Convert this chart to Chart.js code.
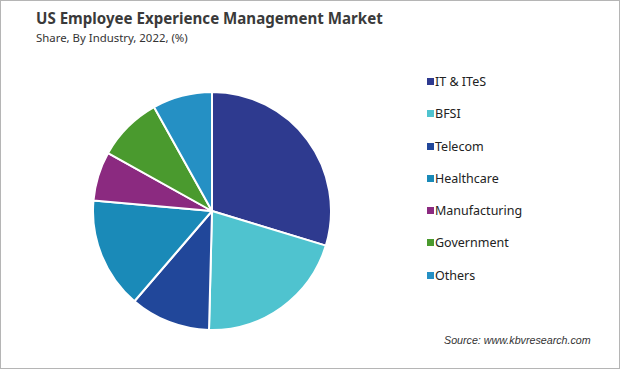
<!DOCTYPE html>
<html>
<head>
<meta charset="utf-8">
<script src="https://cdn.jsdelivr.net/npm/chart.js@4"></script>
<style>
  html, body { margin: 0; padding: 0; background: #fff; }
  #frame { position: relative; width: 620px; height: 369px; box-sizing: border-box; border: 1px solid #b5b5b5; overflow: hidden; font-family: "Noto Sans", "Open Sans", sans-serif; }
  #title { position: absolute; left: 35px; top: 7px; font-size: 15.1px; font-weight: 700; color: #3a3a3a; white-space: nowrap; }
  #subtitle { position: absolute; left: 35px; top: 29px; font-size: 11.4px; color: #333; white-space: nowrap; }
  #pie-wrap { position: absolute; left: 91px; top: 90px; width: 240px; height: 240px; }
  #legend { position: absolute; left: 426px; top: 72px; }
  .item { height: 32.3px; display: flex; align-items: flex-start; font-size: 12.5px; color: #222; }
  .item span.box { width: 7px; height: 7px; margin-top: 5px; margin-right: 1px; }
  #source { position: absolute; left: 443px; top: 333px; font-size: 10.7px; font-style: italic; color: #333; font-family: "Liberation Sans", Arial, sans-serif; }
</style>
</head>
<body>
<div id="frame">
  <div id="title">US Employee Experience Management Market</div>
  <div id="subtitle">Share, By Industry, 2022, (%)</div>
  <div id="pie-wrap"><canvas id="pie"></canvas></div>
  <div id="legend"></div>
  <div id="source">Source: www.kbvresearch.com</div>
</div>
<script>
const industries = ['IT & ITeS', 'BFSI', 'Telecom', 'Healthcare', 'Manufacturing', 'Government', 'Others'];
const shares = [29.7, 20.7, 10.9, 15.1, 6.7, 8.8, 8.1];
const colors = ['#2e3a8f', '#4fc3cf', '#21479a', '#1a8ab8', '#8b2a80', '#4a9a2e', '#2590c4'];

const chart = new Chart(document.getElementById('pie'), {
  type: 'pie',
  data: {
    labels: industries,
    datasets: [{
      data: shares,
      backgroundColor: colors,
      borderColor: '#ffffff',
      borderWidth: 2
    }]
  },
  options: {
    responsive: true,
    maintainAspectRatio: false,
    animation: false,
    layout: { padding: 0 },
    plugins: { legend: { display: false }, tooltip: { enabled: false } }
  }
});

// legend built from chart labels
const legendEl = document.getElementById('legend');
chart.data.labels.forEach((label, i) => {
  const item = document.createElement('div');
  item.className = 'item';
  const box = document.createElement('span');
  box.className = 'box';
  box.style.background = colors[i];
  const txt = document.createElement('span');
  txt.textContent = label;
  item.appendChild(box);
  item.appendChild(txt);
  legendEl.appendChild(item);
});
</script>
</body>
</html>
